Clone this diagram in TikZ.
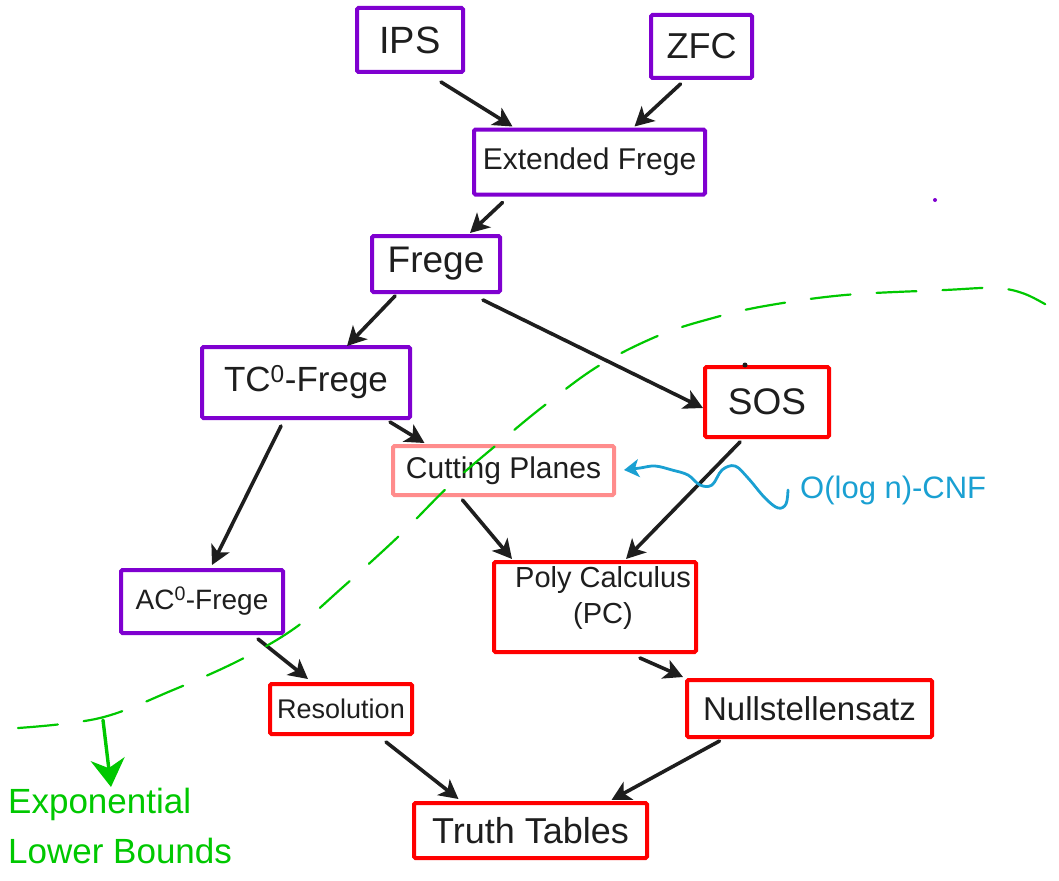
\documentclass[tikz,border=0pt]{standalone}
\usepackage{fontspec}
\setmainfont{Liberation Sans}
\usetikzlibrary{arrows.meta,calc}
\definecolor{ink}{HTML}{1E1E1E}
\definecolor{boxpurple}{HTML}{7F00D0}
\definecolor{boxred}{HTML}{FF0000}
\definecolor{boxpink}{HTML}{FF8C8C}
\definecolor{boundgreen}{HTML}{00C800}
\definecolor{noteblue}{HTML}{1AA0D2}
\newcommand\labsize[1]{\fontsize{#1}{#1}\selectfont}
\tikzset{
  box/.style={draw, line width=4pt, rounded corners=1.5pt, inner sep=0pt, text=ink},
  pbox/.style={box, draw=boxpurple},
  rbox/.style={box, draw=boxred},
  kbox/.style={box, draw=boxpink},
  arr/.style={draw=ink, line width=3.6pt, line cap=round,
    -{Stealth[length=19pt,width=20pt,inset=5pt]}},
  bound/.style={draw=boundgreen, line width=2.2pt, line cap=round,
    dash pattern=on 40pt off 26pt},
}
\begin{document}
\begin{tikzpicture}[x=1pt,y=-1pt]
\useasboundingbox (0,0) rectangle (1059,880);

% proof systems
\node[pbox, minimum width=106, minimum height=64, font=\labsize{38}] (ips) at (410,40) {IPS};
\node[pbox, minimum width=101, minimum height=63, font=\labsize{36}] (zfc) at (701.5,46.5) {ZFC};
\node[pbox, minimum width=231, minimum height=65, font=\labsize{30}] (ext) at (589.5,162) {Extended Frege};
\node[pbox, minimum width=128, minimum height=56, font=\labsize{37}] (frege) at (436,264) {Frege};
\node[pbox, minimum width=208, minimum height=71, font=\labsize{35}] (tc) at (306,382.5) {TC\textsuperscript{0}-Frege};
\node[kbox, minimum width=221, minimum height=49, font=\labsize{30}] (cut) at (503.5,470.5) {Cutting Planes};
\node[rbox, minimum width=124, minimum height=70, font=\labsize{37}] (sos) at (767,402) {SOS};
\node[pbox, minimum width=162, minimum height=63, font=\labsize{28}] (ac) at (202,601.5) {AC\textsuperscript{0}-Frege};
\node[rbox, minimum width=202, minimum height=90] (poly) at (595,607) {};
\node[font=\fontsize{29}{36}\selectfont, align=center, text=ink] (polytext) at ([xshift=8pt,yshift=9pt]poly.center) {Poly Calculus\\(PC)};
\node[rbox, minimum width=142, minimum height=50, font=\labsize{27}] (res) at (341,709) {Resolution};
\node[rbox, minimum width=245, minimum height=57, font=\labsize{33}] (null) at (809.5,708.5) {Nullstellensatz};
\node[rbox, minimum width=233, minimum height=55, font=\labsize{36}] (truth) at (530.5,830.5) {Truth Tables};

% simulations
\draw[arr] ([xshift=31pt,yshift=-8pt]ips.south) -- ([xshift=-77pt,yshift=1pt]ext.north);
\draw[arr] ([xshift=-21pt,yshift=-4pt]zfc.south) -- ([xshift=45pt,yshift=1pt]ext.north);
\draw[arr] ([xshift=-87pt,yshift=-6pt]ext.south) -- ([xshift=34pt,yshift=1pt]frege.north);
\draw[arr] ([xshift=-41pt,yshift=-2pt]frege.south) -- ([xshift=41pt,yshift=-1pt]tc.north);
\draw[arr] ([xshift=47pt,yshift=-6pt]frege.south) -- ([yshift=-6pt]sos.west);
\draw[arr] ([xshift=84pt,yshift=-2pt]tc.south) -- ([xshift=-79pt,yshift=1pt]cut.north);
\draw[arr] ([xshift=-25pt,yshift=-6pt]tc.south) -- ([xshift=10pt,yshift=3pt]ac.north);
\draw[arr] ([xshift=-41pt,yshift=-3pt]cut.south) -- ([xshift=-83pt,yshift=1pt]poly.north);
\draw[arr] ([xshift=-27pt,yshift=-3pt]sos.south) -- ([xshift=31pt,yshift=1pt]poly.north);
\draw[arr] ([xshift=56pt,yshift=-4pt]ac.south) -- ([xshift=-33pt,yshift=3pt]res.north);
\draw[arr] ([xshift=45pt,yshift=-4pt]poly.south) -- ([xshift=-2pt,yshift=1pt]null.north west);
\draw[arr] ([xshift=45pt,yshift=-6pt]res.south) -- ([xshift=-72pt,yshift=2pt]truth.north);
\draw[arr] ([xshift=-90pt,yshift=-2pt]null.south) -- ([xshift=81pt,yshift=1pt]truth.north);

% exponential lower bound frontier
\draw[bound] plot[smooth, tension=0.6] coordinates {
  (18,728) (100,718) (173,690) (240,660) (295,628) (343,587) (400,535)
  (450,485) (500,442) (545,405) (600,365) (660,335) (713,318) (765,306)
  (845,295) (945,290) (995,288) (1025,294) (1055,310)};
\coordinate (lbtop) at (103,720);
\node[font=\fontsize{35}{50}\selectfont, text=boundgreen, align=left, anchor=north west, inner sep=0pt]
  (lb) at (8,788) {Exponential\\Lower Bounds};
\draw[draw=boundgreen, line width=3.4pt, line cap=round,
  -{Stealth[length=28pt,width=34pt,inset=9pt]}] (lbtop) -- ([xshift=103pt,yshift=1pt]lb.north west);

% short-clause annotation
\node[font=\labsize{31}, text=noteblue, anchor=west, inner sep=0pt] (cnf) at (800,490) {O(log n)-CNF};
\draw[draw=noteblue, line width=2.8pt, line cap=round,
  -{Stealth[length=15pt,width=18pt,inset=4pt]}]
  plot[smooth, tension=0.6] coordinates {
  (788,490) (786,504) (778,508) (765,498) (748,478) (735,466) (722,470)
  (712,485) (700,485) (688,475) (672,470) (655,466) (640,468) (624,470)};

% stray pen marks
\fill[boxpurple] (935,200) circle (2pt);
\fill[ink] (745,365) circle (2.5pt);
\end{tikzpicture}
\end{document}
